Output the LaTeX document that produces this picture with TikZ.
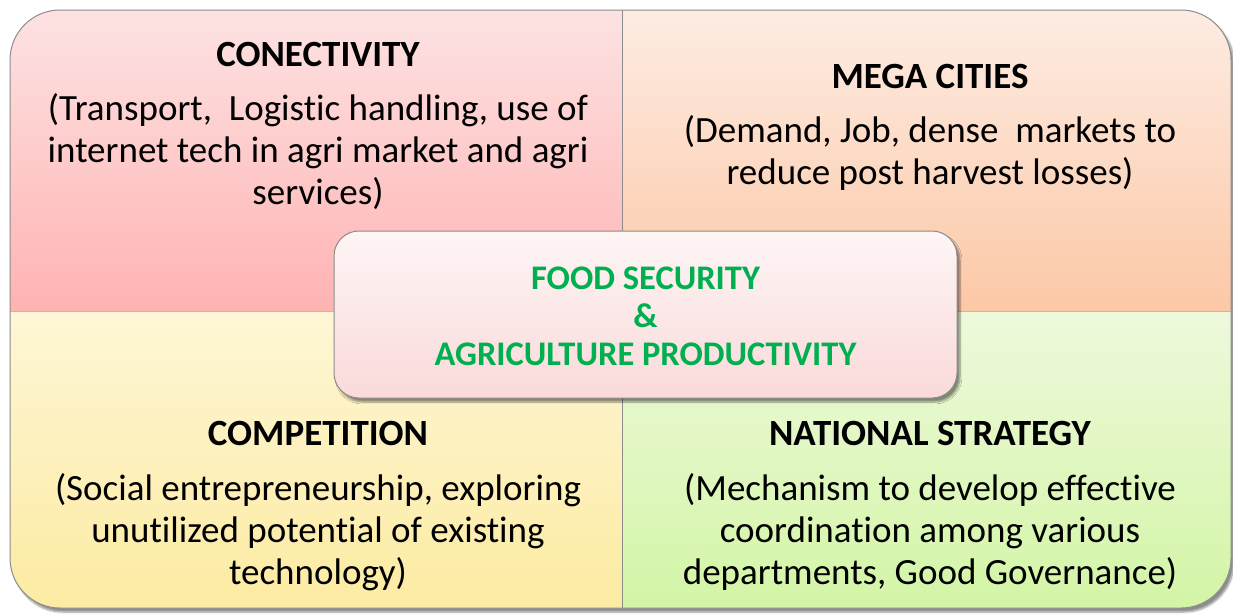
\documentclass[tikz,border=0pt]{standalone}
\usepackage{fontspec}
\setmainfont[Ligatures=NoCommon]{Carlito}
\usetikzlibrary{shadows.blur}
\definecolor{tltop}{HTML}{FDE2E2}
\definecolor{tlbot}{HTML}{FFB3B3}
\definecolor{trtop}{HTML}{FDECE3}
\definecolor{trbot}{HTML}{FCC8A6}
\definecolor{bltop}{HTML}{FEF6D6}
\definecolor{blbot}{HTML}{FCEBA2}
\definecolor{brtop}{HTML}{EEF9DC}
\definecolor{brbot}{HTML}{D3F5A6}
\definecolor{cbtop}{HTML}{FEF5F5}
\definecolor{cbbot}{HTML}{FADADA}
\definecolor{edge}{HTML}{8C8C8C}
\definecolor{fsgreen}{HTML}{00B050}
\tikzset{
  titletext/.style={font=\fontsize{37}{42}\selectfont\bfseries, inner sep=0pt},
  bodytext/.style={font=\fontsize{37}{42}\selectfont, align=center, inner sep=0pt},
  centerbox/.style={draw=edge, line width=1pt, rounded corners=25pt, top color=cbtop, bottom color=cbbot,
     minimum width=623pt, minimum height=167pt,
     blur shadow={shadow xshift=3pt, shadow yshift=-4pt, shadow blur steps=6, shadow opacity=45}},
  centertext/.style={font=\fontsize{34.5}{38}\selectfont\bfseries, text=fsgreen, align=center, inner sep=0pt},
}
\begin{document}
\begin{tikzpicture}[x=1pt,y=-1pt]
\useasboundingbox (0,0) rectangle (1233,613);
% outer frame with shadow
\fill[white, blur shadow={shadow xshift=3pt, shadow yshift=-4pt, shadow blur steps=6, shadow opacity=45}]
  [rounded corners=50pt] (10,10) rectangle (1231,608);
\begin{scope}
  \clip[rounded corners=50pt] (10,10) rectangle (1231,608);
  \shade[top color=tltop, bottom color=tlbot] (10,10) rectangle (622,311);
  \shade[top color=trtop, bottom color=trbot] (622,10) rectangle (1231,311);
  \shade[top color=bltop, bottom color=blbot] (10,311) rectangle (622,608);
  \shade[top color=brtop, bottom color=brbot] (622,311) rectangle (1231,608);
\end{scope}
\draw[edge, line width=0.8pt] (622,10) -- (622,608);
\draw[edge!60, line width=0.6pt] (10,311) -- (1231,311);
\draw[edge, line width=1pt, rounded corners=50pt] (10,10) rectangle (1231,608);

% texts
\node[titletext] (ctitle) at (318,54) {CONECTIVITY};
\node[bodytext] (cbody) at (318,152) {(Transport,\ \ Logistic handling, use of\\internet tech in agri market and agri\\services)};
\node[titletext] (mtitle) at (930,76) {MEGA CITIES};
\node[bodytext] (mbody) at (930,153) {(Demand, Job, dense\ \ markets to\\reduce post harvest losses)};
\node[titletext] (ptitle) at (318,433) {COMPETITION};
\node[bodytext] (pbody) at (318,532) {(Social entrepreneurship, exploring\\unutilized potential of existing\\technology)};
\node[titletext] (ntitle) at (930,433) {NATIONAL STRATEGY};
\node[bodytext] (nbody) at (930,532) {(Mechanism to develop effective\\coordination among various\\departments, Good Governance)};

% center
\node[centerbox] (center) at (645.5,314.5) {};
\node[centertext] (ctext) at (645.5,316) {FOOD SECURITY\\\&\\AGRICULTURE PRODUCTIVITY};
\end{tikzpicture}
\end{document}
